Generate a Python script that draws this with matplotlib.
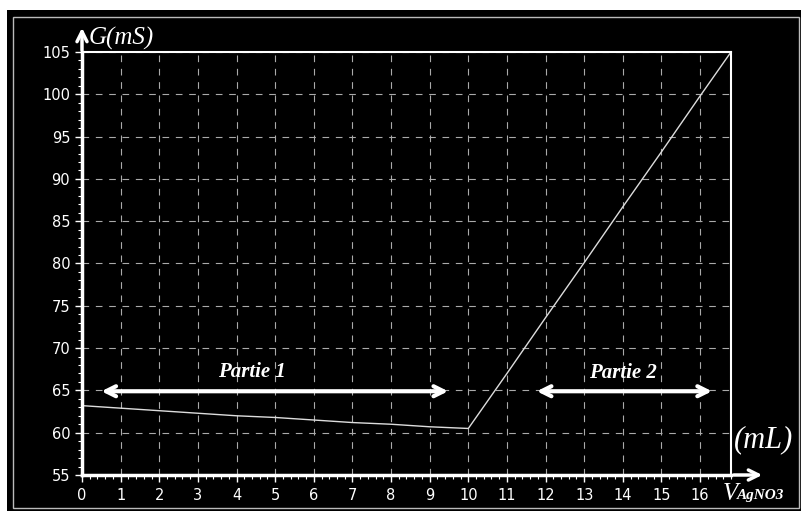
import numpy as np
import matplotlib.pyplot as plt
from matplotlib.patches import Rectangle
from matplotlib.ticker import MultipleLocator

# volume AgNO3 (mL) and conductance G (mS)
volume = [0, 1, 2, 3, 4, 5, 6, 7, 8, 9, 10, 11, 12, 13, 14, 15, 16, 16.8]
conductance = [63.2, 62.9, 62.6, 62.3, 62.0, 61.8, 61.5, 61.2, 61.0, 60.7, 60.5,
               67.0, 73.6, 80.1, 86.7, 93.2, 99.8, 105.0]

x_ticks = list(range(0, 17))
y_ticks = [55, 60, 65, 70, 75, 80, 85, 90, 95, 100, 105]

parts = ["Partie 1", "Partie 2"]
part_start = [0.43, 11.7]
part_end = [9.55, 16.38]
part_level = [64.9, 64.9]
label_x = [4.4, 14.0]
label_y = [67.2, 67.1]

W, H = 803, 513
fig = plt.figure(figsize=(W / 100, H / 100), dpi=100, facecolor='white')

# black panel with thin grey frame
fig.patches.append(Rectangle((7 / W, 1 - 511 / H), 794 / W, 501 / H,
                             transform=fig.transFigure, facecolor='black',
                             edgecolor='none', zorder=-2))
fig.patches.append(Rectangle((13 / W, 1 - 508 / H), 786 / W, 491 / H,
                             transform=fig.transFigure, facecolor='none',
                             edgecolor='#bbbbbb', linewidth=1, zorder=-1))

ax = fig.add_axes([82 / W, 1 - 475 / H, (731 - 82) / W, (475 - 52) / H])
ax.set_facecolor('black')

ax.plot(volume, conductance, color='#dddddd', linewidth=1.0)

ax.set_xlim(0, 16.8)
ax.set_ylim(55, 105)
ax.set_xticks(x_ticks)
ax.set_yticks(y_ticks)
ax.xaxis.set_minor_locator(MultipleLocator(0.2))
ax.yaxis.set_minor_locator(MultipleLocator(1))
ax.grid(True, which='major', color='#aaaaaa', linestyle=(0, (6, 6)), linewidth=0.8)

for side in ['left', 'bottom']:
    ax.spines[side].set_color('white')
    ax.spines[side].set_linewidth(2.5)
for side in ['top', 'right']:
    ax.spines[side].set_color('white')
    ax.spines[side].set_linewidth(1.5)

ax.tick_params(axis='both', which='both', colors='white', labelcolor='white')
ax.tick_params(axis='both', which='major', length=5, width=1, labelsize=10.5)
ax.tick_params(axis='both', which='minor', length=3, width=0.8)
ax.tick_params(axis='x', which='major', pad=4)

# axis arrows
ax.annotate('', xy=(765 / W, 1 - 475 / H), xytext=(731 / W, 1 - 475 / H),
            xycoords='figure fraction',
            arrowprops=dict(arrowstyle='->', color='white', lw=2.5,
                            mutation_scale=18))
ax.annotate('', xy=(82 / W, 1 - 25 / H), xytext=(82 / W, 1 - 53 / H),
            xycoords='figure fraction',
            arrowprops=dict(arrowstyle='->', color='white', lw=2.5,
                            mutation_scale=18))

serif = ['Liberation Serif', 'DejaVu Serif']
fig.text(89 / W, 1 - 38 / H, 'G(mS)', color='white', fontsize=18,
         family=serif, style='italic', va='center', ha='left')
fig.text(764 / W, 1 - 440 / H, '(mL)', color='white', fontsize=22,
         family=serif, style='italic', va='center', ha='center')
fig.text(723 / W, 1 - 494 / H, 'V', color='white', fontsize=18,
         family=serif, style='italic', va='center', ha='left')
fig.text(737 / W, 1 - 495 / H, 'AgNO3', color='white', fontsize=11,
         family=serif, style='italic', weight='bold', va='center', ha='left')

# part arrows
for name, x0, x1, yv, tx, ty in zip(parts, part_start, part_end, part_level,
                                    label_x, label_y):
    ax.annotate('', xy=(x0, yv), xytext=(x1, yv),
                arrowprops=dict(arrowstyle='<->', color='white', lw=3,
                                mutation_scale=18))
    ax.text(tx, ty, name, color='white', fontsize=15,
            family=serif, style='italic', weight='bold', ha='center', va='center')

fig.savefig('out.png', dpi=100, facecolor='white')
